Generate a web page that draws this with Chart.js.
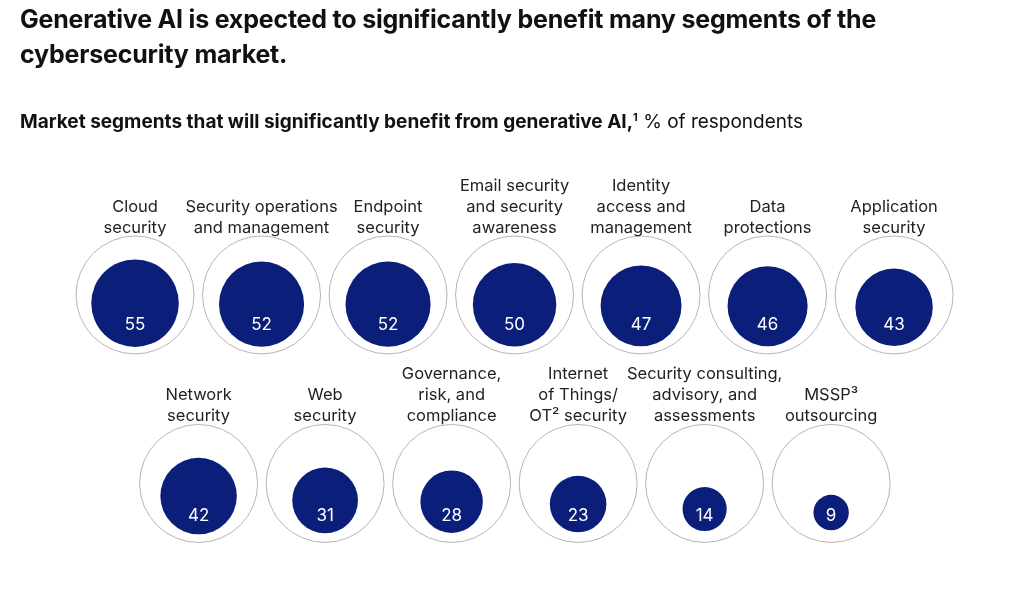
<!DOCTYPE html>
<html><head><meta charset="utf-8">
<script src="https://cdn.jsdelivr.net/npm/chart.js@4"></script>
<style>
html,body{margin:0;padding:0;background:#fff;}
#wrap{position:relative;width:1024px;height:606px;}
canvas{position:absolute;left:0;top:0;}
.t{position:absolute;left:20px;font-family:Inter,"Liberation Sans",sans-serif;color:#111;}
#title{top:2px;font-size:25px;font-weight:700;line-height:35px;letter-spacing:-0.2px;}
#sub{top:104px;font-size:19px;line-height:26px;}
</style></head><body>
<div id="wrap">
<canvas id="c" width="1024" height="606"></canvas>
<div class="t" id="title">Generative AI is expected to significantly benefit many segments of the<br>cybersecurity market.</div>
<div class="t" id="sub"><b>Market segments that will significantly benefit from generative AI,<sup style="font-size:11px">1</sup></b> % of respondents</div>
</div>
<script>
const categories = [
 ["Cloud","security"],["Security operations","and management"],["Endpoint","security"],
 ["Email security","and security","awareness"],["Identity","access and","management"],["Data","protections"],
 ["Application","security"],["Network","security"],["Web","security"],["Governance,","risk, and","compliance"],
 ["Internet","of Things/","OT² security"],["Security consulting,","advisory, and","assessments"],["MSSP³","outsourcing"]
];
const values = [55,52,52,50,47,46,43,42,31,28,23,14,9];
const maxValue = 100;

// layout (scales are set to 1 unit = 1 px)
const R = 59, GAP = 5, STEP = 143.3;
function pos(i){
  if(i<7) return {x:85+i*STEP, bottom:352, labelY:209, numY:330};
  return {x:157+(i-7)*STEP, bottom:587, labelY:444, numY:569};
}
const outer = values.map((v,i)=>{const p=pos(i);return {x:p.x,y:606-(p.bottom-R),r:R};});
const inner = values.map((v,i)=>{const p=pos(i);const r=R*Math.sqrt(v/maxValue);return {x:p.x,y:606-(p.bottom-GAP-r),r:r};});

const textPlugin={id:'txt',afterDatasetsDraw(ch){
  const ctx=ch.ctx, xs=ch.scales.x, ys=ch.scales.y;
  ctx.save();ctx.textAlign='center';ctx.textBaseline='middle';
  categories.forEach((lines,i)=>{
    const p=pos(i), px=xs.getPixelForValue(p.x);
    ctx.fillStyle='#222';ctx.font='16.5px Inter, "Liberation Sans", sans-serif';
    lines.forEach((l,k)=>ctx.fillText(l,px,ys.getPixelForValue(606-p.labelY)-(lines.length-1-k)*21));
    ctx.fillStyle='#fff';ctx.font='17px Inter, "Liberation Sans", sans-serif';
    ctx.fillText(String(values[i]),px,ys.getPixelForValue(606-p.numY));
  });
  ctx.restore();
}};

new Chart(document.getElementById('c'),{
  type:'scatter',
  data:{datasets:[
    {data:inner,backgroundColor:'#0b1f7a',borderWidth:0,pointRadius:c=>c.raw?c.raw.r:0,pointHoverRadius:c=>c.raw?c.raw.r:0},
    {data:outer,backgroundColor:'rgba(255,255,255,0)',borderColor:'#b5b5b5',borderWidth:1,pointRadius:c=>c.raw?c.raw.r:0,pointHoverRadius:c=>c.raw?c.raw.r:0}
  ]},
  options:{responsive:false,animation:false,events:[],layout:{padding:0},
    plugins:{legend:{display:false},tooltip:{enabled:false}},
    scales:{x:{type:'linear',min:0,max:1024,display:false,offset:false},y:{type:'linear',min:0,max:606,display:false,offset:false}}},
  plugins:[textPlugin]
});
</script></body></html>
